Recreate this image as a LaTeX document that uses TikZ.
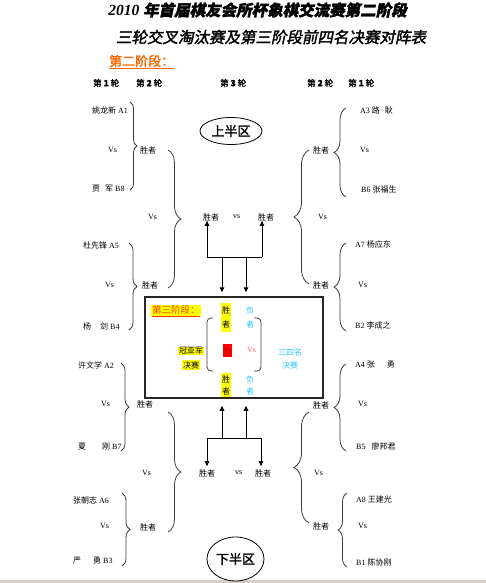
\documentclass[tikz,border=0pt]{standalone}
\usepackage{fontspec}
\setmainfont{Liberation Serif}
\newfontfamily\cjk{Noto Sans CJK SC}
\newfontfamily\cjkb{Noto Sans CJK SC}[FakeBold=2]
\newfontfamily\cjkt{Noto Sans CJK SC}[FakeBold=2,FakeSlant=0.2]
\newcommand\zh[1]{{\cjk #1}}
\usetikzlibrary{arrows.meta,decorations.pathreplacing,shapes.geometric,calc}
\definecolor{orng}{RGB}{255,102,0}
\definecolor{orred}{RGB}{255,60,0}
\definecolor{cyn}{RGB}{40,200,255}
\definecolor{pnk}{RGB}{255,90,90}
\definecolor{hly}{RGB}{255,255,0}
\definecolor{barg}{RGB}{212,208,200}
\definecolor{brcol}{RGB}{60,60,60}
\tikzset{
  lbl/.style={anchor=west, inner sep=0pt, font=\fontsize{8}{9}\selectfont},
  hdr/.style={anchor=west, inner sep=0pt, font=\cjkb\fontsize{8.5}{9}\selectfont},
  brc/.style={decorate, decoration={brace,amplitude=#1}, draw=brcol, line width=0.8pt},
  arr/.style={-{Triangle[length=5pt,width=4.5pt]}, line width=1pt},
  hlc/.style={fill=hly, inner sep=0.8pt, font=\cjk\fontsize{8}{9}\selectfont},
  cyc/.style={inner sep=0.8pt, text=cyn, font=\cjk\fontsize{8}{9}\selectfont},
  zone/.style={draw, ellipse, line width=0.8pt, inner sep=0pt, font=\cjkb\fontsize{13}{14}\selectfont},
}
\begin{document}
\begin{tikzpicture}[x=1pt,y=-1pt]
\useasboundingbox (0,0) rectangle (486,583);
\fill[white] (0,0) rectangle (486,583);
\fill[barg] (0,580) rectangle (486,583);

% titles
\node[inner sep=0pt, font=\fontsize{15.5}{16}\selectfont] (t1) at (257.5,10) {\bfseries\itshape 2010 {\cjkt 年首届棋友会所杯象棋交流赛第二阶段}};
\node[inner sep=0pt, font=\cjkt\fontsize{15.5}{16}\selectfont] (t2) at (271,37) {三轮交叉淘汰赛及第三阶段前四名决赛对阵表};
\node[anchor=west, inner sep=0pt, text=orng, font=\cjkb\fontsize{13}{14}\selectfont] (s2) at (109,62) {\underline{第二阶段：}};

% headers
\node[hdr] (h1) at (93,83) {第 {\bfseries 1} 轮};
\node[hdr] (h2) at (136,83) {第 {\bfseries 2} 轮};
\node[hdr] (h3) at (220,83) {第 {\bfseries 3} 轮};
\node[hdr] (h4) at (307,83) {第 {\bfseries 2} 轮};
\node[hdr] (h5) at (348,83) {第 {\bfseries 1} 轮};

% zones
\node[zone, minimum width=62, minimum height=27] (up) at (231,131) {上半区};
\node[zone, minimum width=57, minimum height=44] (dn) at (235.5,559) {下半区};

% ---------- upper left
\node[lbl] (a1) at (92,110) {\zh{姚龙新} A1};
\node[lbl] (va1) at (108,150) {Vs};
\node[lbl] (b8) at (92,189) {\zh{贾\hspace{5pt}军} B8};
\node[lbl] (wa1) at (140,150) {\zh{胜者}};
\node[lbl] (a5) at (83,245) {\zh{杜先锋} A5};
\node[lbl] (va5) at (105,285) {Vs};
\node[lbl] (b4) at (83,326) {\zh{杨\hspace{9pt}剑} B4};
\node[lbl] (wa5) at (142,285) {\zh{胜者}};
\node[lbl] (vul) at (148,217) {Vs};
\coordinate (ba1t) at (130,102); \coordinate (ba1b) at (130,190);
\draw[brc=7pt] (ba1t) -- (ba1b);
\coordinate (ba5t) at (129,243); \coordinate (ba5b) at (129,330);
\draw[brc=8pt] (ba5t) -- (ba5b);
\coordinate (bult) at (168,150); \coordinate (bulb) at (168,288);
\draw[brc=13pt] (bult) -- (bulb);

% ---------- upper centre
\node[lbl] (wu1) at (203,217) {\zh{胜者}};
\node[lbl] (vsu) at (233,217) {vs};
\node[lbl] (wu2) at (258,217) {\zh{胜者}};
\coordinate (ju1) at (207,257); \coordinate (ju2) at (262,257);
\coordinate (ju3) at (222,257); \coordinate (ju4) at (246,257);
\draw[line width=1pt] (ju1) -- (ju2);
\draw[arr] (ju1) -- (ju1 |- wu1.south);
\draw[arr] (ju2) -- (ju2 |- wu2.south);

% ---------- upper right
\node[lbl] (a3) at (360,110) {A3 \zh{路\hspace{5pt}耿}};
\node[lbl] (va3) at (360,150) {Vs};
\node[lbl] (b6) at (361,189) {B6 \zh{张福生}};
\node[lbl] (wa3) at (313,150) {\zh{胜者}};
\node[lbl] (a7) at (355,244) {A7 \zh{杨应东}};
\node[lbl] (va7) at (358,285) {Vs};
\node[lbl] (b2) at (355,325) {B2 \zh{李成之}};
\node[lbl] (wa7) at (313,285) {\zh{胜者}};
\node[lbl] (vur) at (318,217) {Vs};
\coordinate (ba3t) at (346,108); \coordinate (ba3b) at (346,197);
\draw[brc=12pt] (ba3b) -- (ba3t);
\coordinate (ba7t) at (346,243); \coordinate (ba7b) at (346,331);
\draw[brc=12pt] (ba7b) -- (ba7t);
\coordinate (burt) at (309,150); \coordinate (burb) at (309,284);
\draw[brc=15pt] (burb) -- (burt);

% ---------- third stage box
\node[draw=black!85, line width=1.5pt, minimum width=178, minimum height=101, inner sep=0pt] (box) at (234,347.5) {};
\draw[arr] (ju3) -- ($(ju3 |- box.north)+(0,-4)$);
\draw[arr] (ju4) -- ($(ju4 |- box.north)+(0,-4)$);
\node[anchor=west, fill=hly, inner sep=1pt, text=orred, font=\cjk\fontsize{9.5}{10}\selectfont] (s3) at (151,311) {\underline{第三阶段：}};
\node[hlc, minimum height=14.5] (g1) at (226,310) {胜};
\node[hlc, minimum height=14.5] (g2) at (226,324.5) {者};
\node[cyc] (c1) at (250,310) {负};
\node[cyc] (c2) at (250,324.5) {者};
\node[hlc] (f1) at (191,351) {冠亚军};
\node[hlc] (f2) at (191,365) {决赛};
\node[fill=red, minimum width=9, minimum height=13, inner sep=0pt, text=red!60!black, font=\fontsize{6}{6}\selectfont] (vr) at (227.5,350.5) {Vs};
\node[lbl, text=pnk] (vp) at (247,350) {Vs};
\node[cyc] (t31) at (290,352) {三四名};
\node[cyc] (t32) at (290,365) {决赛};
\node[hlc, minimum height=12.5] (g3) at (226,379) {胜};
\node[hlc, minimum height=12.5] (g4) at (226,391) {者};
\node[cyc] (c3) at (250,379) {负};
\node[cyc] (c4) at (250,391) {者};
\draw[brcol, line width=0.8pt, rounded corners=4pt] (213,318) -- (207,318) -- (207,371) -- (213,371);
\draw[brcol, line width=0.8pt, rounded corners=4pt] (254,318) -- (261,318) -- (261,371) -- (254,371);

% ---------- lower centre
\node[lbl] (wd1) at (199,473) {\zh{胜者}};
\node[lbl] (vsd) at (235,473) {vs};
\node[lbl] (wd2) at (255,473) {\zh{胜者}};
\coordinate (jd1) at (207,438); \coordinate (jd2) at (261,438);
\coordinate (jd3) at (222,438); \coordinate (jd4) at (246,438);
\draw[line width=1pt] (jd1) -- (jd2);
\draw[arr] (jd1) -- ($(jd1 |- wd1.north)+(0,-3)$);
\draw[arr] (jd2) -- ($(jd2 |- wd2.north)+(0,-3)$);
\draw[arr] (jd3) -- ($(jd3 |- box.south)+(0,7)$);
\draw[arr] (jd4) -- ($(jd4 |- box.south)+(0,7)$);

% ---------- lower left
\node[lbl] (a2) at (78,365) {\zh{许文学} A2};
\node[lbl] (va2) at (101,404) {Vs};
\node[lbl] (b7) at (78,447) {\zh{夏\hspace{16pt}刚} B7};
\node[lbl] (wa2) at (137,404) {\zh{胜者}};
\node[lbl] (vdl) at (142,473) {Vs};
\node[lbl] (a6) at (73,500) {\zh{张朝志} A6};
\node[lbl] (va6) at (100,526) {Vs};
\node[lbl] (b3) at (73,561) {\zh{严\hspace{12pt}勇} B3};
\node[lbl] (wa6) at (140,527) {\zh{胜者}};
\coordinate (ba2t) at (121,363); \coordinate (ba2b) at (121,451);
\draw[brc=8pt] (ba2t) -- (ba2b);
\coordinate (ba6t) at (122,493); \coordinate (ba6b) at (122,566);
\draw[brc=8pt] (ba6t) -- (ba6b);
\coordinate (bdlt) at (168,412); \coordinate (bdlb) at (168,532);
\draw[brc=13pt] (bdlt) -- (bdlb);

% ---------- lower right
\node[lbl] (a4) at (355,365) {A4 \zh{张\hspace{12pt}勇}};
\node[lbl] (va4) at (358,404) {Vs};
\node[lbl] (b5) at (356,446) {B5\hspace{6pt}\zh{廖邦君}};
\node[lbl] (wa4) at (313,405) {\zh{胜者}};
\node[lbl] (vdr) at (314,473) {Vs};
\node[lbl] (a8) at (356,499) {A8 \zh{王建光}};
\node[lbl] (va8) at (358,526) {Vs};
\node[lbl] (b1) at (356,562) {B1 \zh{陈协刚}};
\node[lbl] (wa8) at (313,526) {\zh{胜者}};
\coordinate (ba4t) at (346,364); \coordinate (ba4b) at (346,451);
\draw[brc=12pt] (ba4b) -- (ba4t);
\coordinate (ba8t) at (347,493); \coordinate (ba8b) at (347,567);
\draw[brc=9pt] (ba8b) -- (ba8t);
\coordinate (bdrt) at (309,412); \coordinate (bdrb) at (309,523);
\draw[brc=15pt] (bdrb) -- (bdrt);
\end{tikzpicture}
\end{document}
